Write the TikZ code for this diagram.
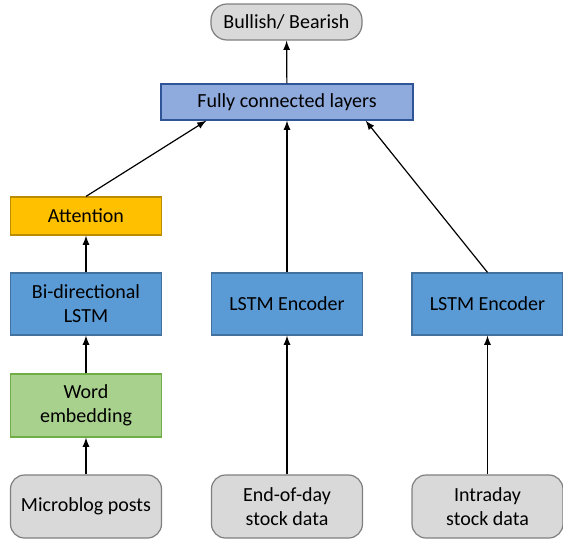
\documentclass[tikz,border=0pt]{standalone}
\usepackage{fontspec}
\setmainfont{Carlito}
\usepackage{tikz}
\usetikzlibrary{arrows, calc}
\definecolor{boxgray}{HTML}{D9D9D9}
\definecolor{linegray}{HTML}{7F7F7F}
\definecolor{fcblue}{HTML}{8FAADC}
\definecolor{fcline}{HTML}{2F5597}
\definecolor{lstmblue}{HTML}{5B9BD5}
\definecolor{lstmline}{HTML}{41719C}
\definecolor{attorange}{HTML}{FFC000}
\definecolor{attline}{HTML}{BC8C00}
\definecolor{embgreen}{HTML}{A9D18E}
\definecolor{embline}{HTML}{70AD47}

\begin{document}
\begin{tikzpicture}[x=0.5pt, y=-0.5pt, font=\fontsize{10}{12}\selectfont,
		blk/.style={draw, line width=0.6pt, minimum width=75.5pt, align=center, inner sep=2pt},
		inbox/.style={blk, fill=boxgray, draw=linegray, rounded corners=7pt, minimum height=31.5pt},
		lstm/.style={blk, fill=lstmblue, draw=lstmline, minimum height=31pt},
		arr/.style={-latex, line width=0.6pt}]
		\useasboundingbox (0,0) rectangle (563,541);
		% output side
		\node[blk, fill=boxgray, draw=linegray, rounded corners=8pt, minimum height=18pt] (out) at (286.5,22) {Bullish/ Bearish};
		\node[blk, fill=fcblue, draw=fcline, minimum width=126pt, minimum height=18pt] (fc) at (287,102) {Fully connected layers};
		% text branch
		\node[blk, fill=attorange, draw=attline, minimum height=19pt] (att) at (86,216) {Attention};
		\node[lstm] (bilstm) at (86,304) {Bi-directional\\LSTM};
		\node[blk, fill=embgreen, draw=embline, minimum height=31.5pt] (emb) at (86,405.5) {Word\\embedding};
		\node[inbox] (posts) at (86,506.5) {Microblog posts};
		% price branches
		\node[lstm] (enc1) at (287,304) {LSTM Encoder};
		\node[lstm] (enc2) at (487.5,304) {LSTM Encoder};
		\node[inbox] (eod) at (287,506.5) {End-of-day\\stock data};
		\node[inbox] (intra) at (487.5,506.5) {Intraday\\stock data};

		\draw[arr] (posts) -- (emb);
		\draw[arr] (emb) -- (bilstm);
		\draw[arr] (bilstm) -- (att);
		\draw[arr] (eod) -- (enc1);
		\draw[arr] (intra) -- (enc2);
		\draw[arr] (att.north) -- ($(fc.south west)+(46,0)$);
		\draw[arr] (enc1) -- (fc);
		\draw[arr] (enc2.north) -- ($(fc.south east)+(-48,0)$);
		\draw[arr] (fc) -- (out);
	\end{tikzpicture}
\end{document}
